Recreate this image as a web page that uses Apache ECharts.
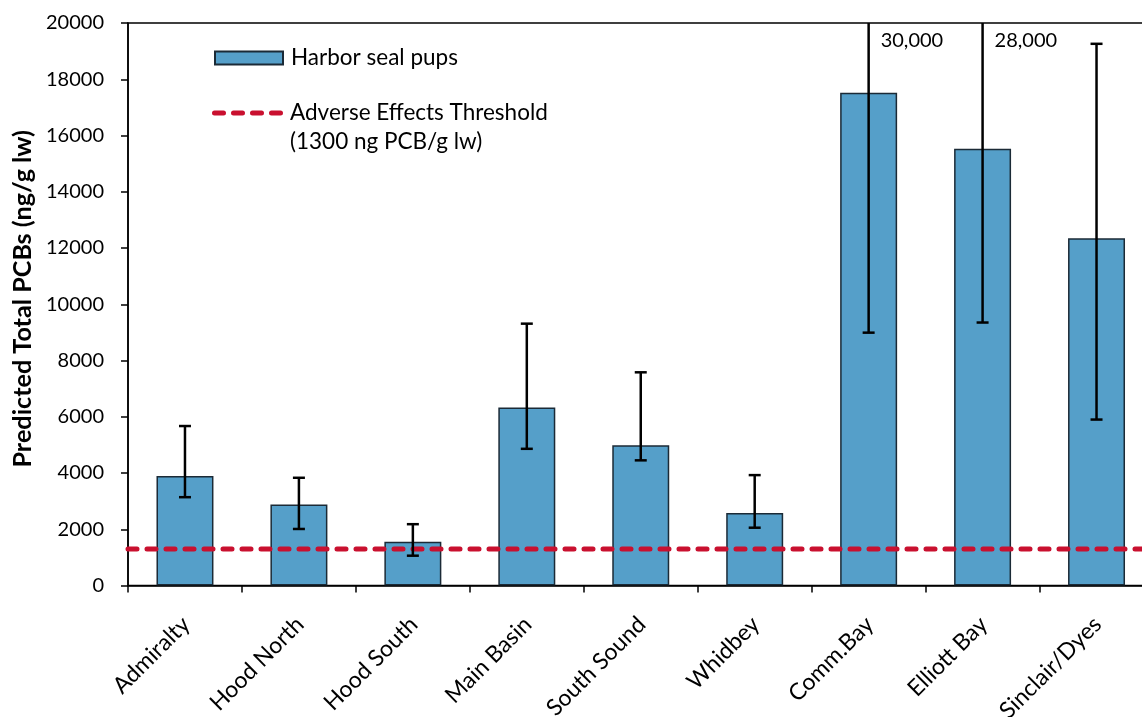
<!DOCTYPE html>
<html>
<head>
<meta charset="utf-8">
<script src="https://cdn.jsdelivr.net/npm/echarts@6/dist/echarts.min.js"></script>
<style>
html,body{margin:0;padding:0;background:#fff;}
#c{width:1142px;height:717px;}
</style>
</head>
<body>
<div id="c"></div>
<script>
const categories = ['Admiralty','Hood North','Hood South','Main Basin','South Sound','Whidbey','Comm.Bay','Elliott Bay','Sinclair/Dyes'];
const pcbValues = [3890, 2880, 1560, 6330, 4990, 2575, 17520, 15530, 12350];
const errLow = [3140, 2010, 1060, 4860, 4450, 2055, 8990, 9350, 5900];
const errHigh = [5670, 3830, 2180, 9310, 7580, 3925, 30000, 28000, 19260];
const threshold = 1300;
const yTicks = {min: 0, max: 20000, interval: 2000};
const seriesName = 'Harbor seal pups';
const thresholdName = 'Adverse Effects Threshold';
const thresholdNote = '(1300 ng PCB/g lw)';

const FONT = 'Lato';
const RED = '#C9102F';
const chart = echarts.init(document.getElementById('c'), null, {renderer: 'canvas'});

const errData = categories.map((c, i) => [i, errLow[i], errHigh[i]]);

// dashed legend icon (4 rounded dashes)
function dashPath() {
  let p = '';
  for (let k = 0; k < 4; k++) {
    const x0 = k * 19;
    p += 'M' + (x0 + 2.5) + ',0 h9 a2.5,2.5 0 0 1 0,5 h-9 a2.5,2.5 0 0 1 0,-5 z ';
  }
  return 'path://' + p;
}

const option = {
  animation: false,
  backgroundColor: '#fff',
  textStyle: {fontFamily: FONT, color: '#000'},
  grid: {left: 128, right: -11.5, top: 23, bottom: 131.5, show: true, borderColor: '#000', borderWidth: 1.5,
         containLabel: false, outerBoundsMode: 'none'},
  legend: [
    {data: [{name: seriesName, icon: 'rect'}], left: 214, top: 45, padding: 0, itemWidth: 68, itemHeight: 13,
     textStyle: {fontFamily: FONT, fontSize: 22.5, color: '#000', lineHeight: 26, padding: [0,0,0,3]}},
    {data: [{name: thresholdName, icon: dashPath(), itemStyle: {color: RED, borderWidth: 0}}], left: 212, top: 100, padding: 0,
     itemWidth: 71, itemHeight: 5,
     textStyle: {fontFamily: FONT, fontSize: 22.5, color: '#000', lineHeight: 26, padding: [0,0,0,2]}}
  ],
  graphic: [
    {type: 'text', left: 290, top: 130, style: {text: thresholdNote, font: '22.5px ' + FONT, fill: '#000'}}
  ],
  xAxis: [
    {type: 'category', data: categories, boundaryGap: true,
     axisLine: {lineStyle: {color: '#000', width: 1.5}},
     axisTick: {show: true, inside: false, length: 7, lineStyle: {color: '#000', width: 1.5}},
     axisLabel: {rotate: 45, margin: 20, fontFamily: FONT, fontSize: 23, color: '#000', interval: 0,
                 align: 'right', verticalAlign: 'top', padding: [0, 10, 0, 0]},
     splitLine: {show: false}},
    {type: 'value', min: 0, max: 1, show: false}
  ],
  yAxis: {
    type: 'value', min: yTicks.min, max: yTicks.max, interval: yTicks.interval,
    name: 'Predicted Total PCBs (ng/g lw)', nameLocation: 'middle', nameGap: 80,
    nameTextStyle: {fontFamily: FONT, fontSize: 25.2, fontWeight: 'bold', color: '#000', padding: [0, 0, 0, 11]},
    axisLine: {show: true, lineStyle: {color: '#000', width: 1.5}},
    axisTick: {show: true, inside: false, length: 7, lineStyle: {color: '#000', width: 1.5}},
    axisLabel: {margin: 24, fontFamily: FONT, fontSize: 20, color: '#000', formatter: v => String(v)},
    splitLine: {show: false}
  },
  series: [
    {name: seriesName, type: 'bar', data: pcbValues, barWidth: '50%', z: 2,
     itemStyle: {color: '#559FC9', borderColor: '#1B2A36', borderWidth: 1.5}},
    {name: thresholdName, type: 'line', xAxisIndex: 1, data: [[0, threshold], [1, threshold]],
     symbol: 'none', z: 3, itemStyle: {color: RED},
     lineStyle: {color: RED, width: 5, type: [9, 10], cap: 'round'}},
    {name: 'err', type: 'custom', data: errData, z: 4, clip: false,
     encode: {x: 0, y: [1, 2]},
     renderItem: function (params, api) {
       const i = api.value(0), lo = api.value(1), hi = api.value(2);
       const over = hi > yTicks.max;
       const pLo = api.coord([i, lo]);
       const pHi = api.coord([i, over ? yTicks.max : hi]);
       const cw = 6;
       const st = {stroke: '#000', lineWidth: 2.5};
       const children = [
         {type: 'line', shape: {x1: pLo[0], y1: pLo[1], x2: pHi[0], y2: pHi[1]}, style: st},
         {type: 'line', shape: {x1: pLo[0]-cw, y1: pLo[1], x2: pLo[0]+cw, y2: pLo[1]}, style: st}
       ];
       if (!over) {
         children.push({type: 'line', shape: {x1: pHi[0]-cw, y1: pHi[1], x2: pHi[0]+cw, y2: pHi[1]}, style: st});
       } else {
         children.push({type: 'text', x: pHi[0] + 12, y: pHi[1] + 18,
           style: {text: hi.toLocaleString('en-US'), font: '20px ' + FONT, fill: '#000', verticalAlign: 'middle', align: 'left'}});
       }
       return {type: 'group', children: children};
     }}
  ]
};
chart.setOption(option);
</script>
</body>
</html>
